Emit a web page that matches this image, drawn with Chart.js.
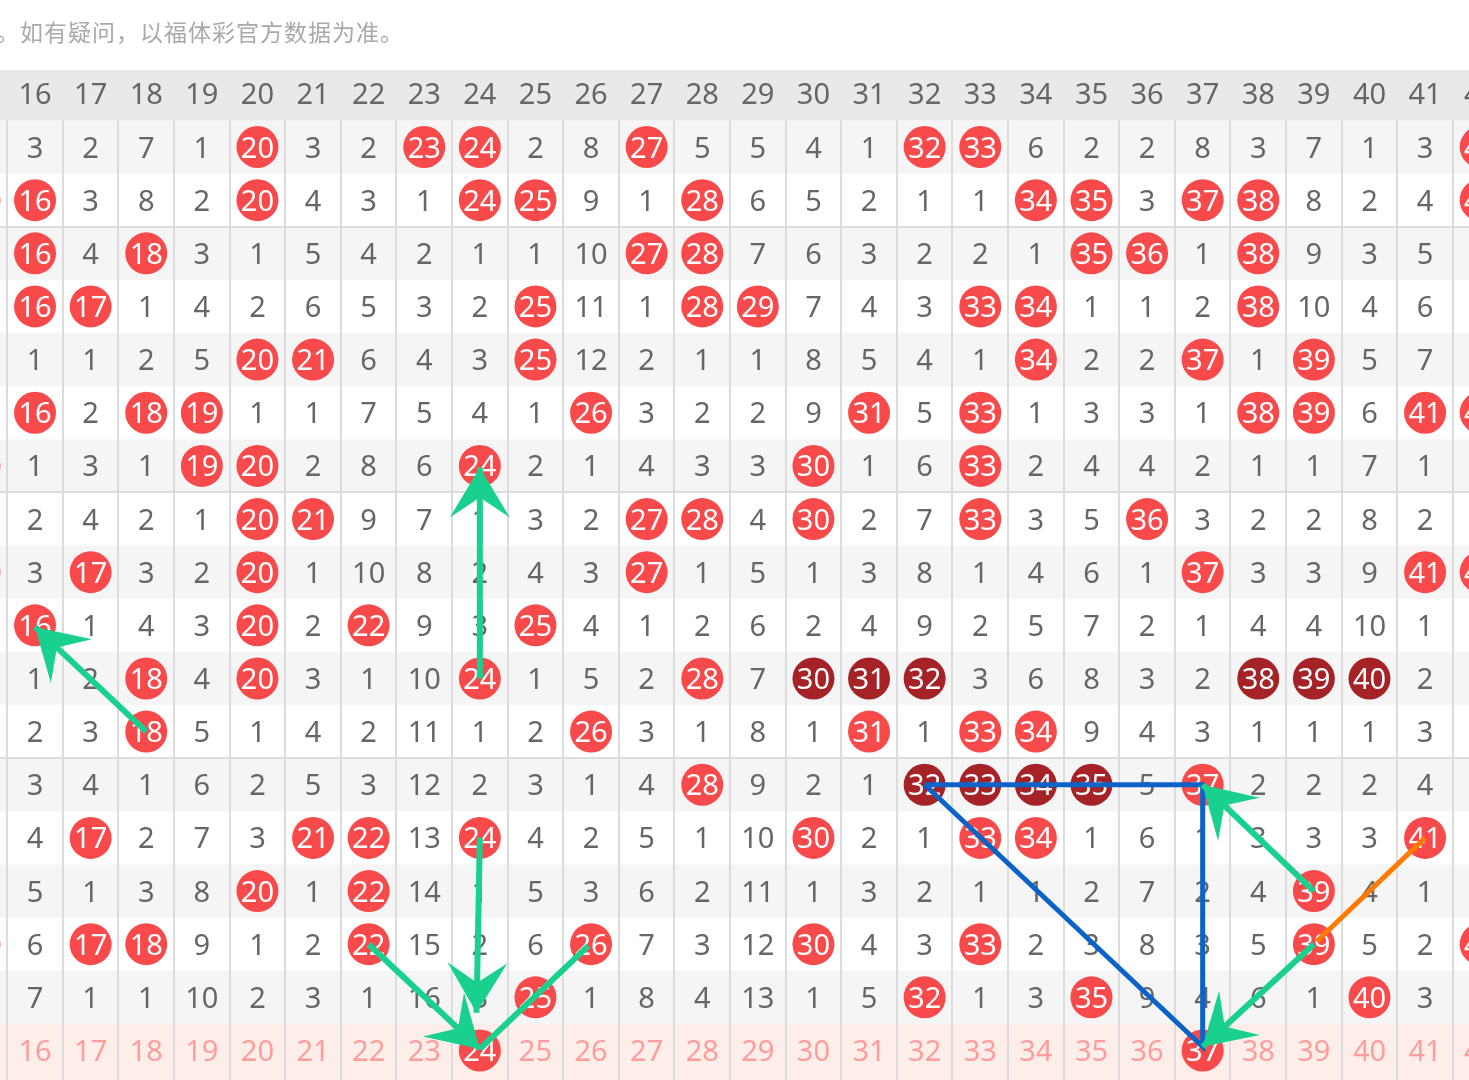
<!DOCTYPE html>
<html>
<head>
<meta charset="utf-8">
<script src="https://cdn.jsdelivr.net/npm/chart.js@4.4.1/dist/chart.umd.min.js"></script>
<style>
  html, body { margin: 0; padding: 0; background: #fff; overflow: hidden; }
  #wrap { position: relative; width: 1469px; height: 1080px; }
  #trend { position: absolute; left: 0; top: 0; }
  #note { position: absolute; left: -4px; top: 15px; font: 23px "Noto Sans CJK SC", sans-serif; letter-spacing: 1px; color: #a9a9a9; white-space: nowrap; line-height: 32px; }
</style>
</head>
<body>
<div id="wrap">
  <canvas id="trend" width="1469" height="1080"></canvas>
  <div id="note">。如有疑问，以福体彩官方数据为准。</div>
</div>
<script>
// columns 16..41 fully visible, 15 and 42 cut at the edges
const columns = [16, 17, 18, 19, 20, 21, 22, 23, 24, 25, 26, 27, 28, 29, 30, 31, 32, 33, 34, 35, 36, 37, 38, 39, 40, 41];
const edgeColumns = [15, 42];

// miss counts per draw, 0 = number drawn (ball)
const missRows = [
  [3, 2, 7, 1, 0, 3, 2, 0, 0, 2, 8, 0, 5, 5, 4, 1, 0, 0, 6, 2, 2, 8, 3, 7, 1, 3],
  [0, 3, 8, 2, 0, 4, 3, 1, 0, 0, 9, 1, 0, 6, 5, 2, 1, 1, 0, 0, 3, 0, 0, 8, 2, 4],
  [0, 4, 0, 3, 1, 5, 4, 2, 1, 1, 10, 0, 0, 7, 6, 3, 2, 2, 1, 0, 0, 1, 0, 9, 3, 5],
  [0, 0, 1, 4, 2, 6, 5, 3, 2, 0, 11, 1, 0, 0, 7, 4, 3, 0, 0, 1, 1, 2, 0, 10, 4, 6],
  [1, 1, 2, 5, 0, 0, 6, 4, 3, 0, 12, 2, 1, 1, 8, 5, 4, 1, 0, 2, 2, 0, 1, 0, 5, 7],
  [0, 2, 0, 0, 1, 1, 7, 5, 4, 1, 0, 3, 2, 2, 9, 0, 5, 0, 1, 3, 3, 1, 0, 0, 6, 0],
  [1, 3, 1, 0, 0, 2, 8, 6, 0, 2, 1, 4, 3, 3, 0, 1, 6, 0, 2, 4, 4, 2, 1, 1, 7, 1],
  [2, 4, 2, 1, 0, 0, 9, 7, 1, 3, 2, 0, 0, 4, 0, 2, 7, 0, 3, 5, 0, 3, 2, 2, 8, 2],
  [3, 0, 3, 2, 0, 1, 10, 8, 2, 4, 3, 0, 1, 5, 1, 3, 8, 1, 4, 6, 1, 0, 3, 3, 9, 0],
  [0, 1, 4, 3, 0, 2, 0, 9, 3, 0, 4, 1, 2, 6, 2, 4, 9, 2, 5, 7, 2, 1, 4, 4, 10, 1],
  [1, 2, 0, 4, 0, 3, 1, 10, 0, 1, 5, 2, 0, 7, 0, 0, 0, 3, 6, 8, 3, 2, 0, 0, 0, 2],
  [2, 3, 0, 5, 1, 4, 2, 11, 1, 2, 0, 3, 1, 8, 1, 0, 1, 0, 0, 9, 4, 3, 1, 1, 1, 3],
  [3, 4, 1, 6, 2, 5, 3, 12, 2, 3, 1, 4, 0, 9, 2, 1, 0, 0, 0, 0, 5, 0, 2, 2, 2, 4],
  [4, 0, 2, 7, 3, 0, 0, 13, 0, 4, 2, 5, 1, 10, 0, 2, 1, 0, 0, 1, 6, 1, 3, 3, 3, 0],
  [5, 1, 3, 8, 0, 1, 0, 14, 1, 5, 3, 6, 2, 11, 1, 3, 2, 1, 1, 2, 7, 2, 4, 0, 4, 1],
  [6, 0, 0, 9, 1, 2, 0, 15, 2, 6, 0, 7, 3, 12, 0, 4, 3, 0, 2, 3, 8, 3, 5, 0, 5, 2],
  [7, 1, 1, 10, 2, 3, 1, 16, 3, 0, 1, 8, 4, 13, 1, 5, 0, 1, 3, 0, 9, 4, 6, 1, 0, 3]
];

// consecutive-number runs shown in dark red: [row, column]
const darkHits = [[11, 30], [11, 31], [11, 32], [11, 38], [11, 39], [11, 40], [13, 32], [13, 33], [13, 34], [13, 35]];
// balls in the half-hidden edge columns: [row, column]
const edgeHits = [[2, 15], [7, 15], [9, 15], [16, 15], [1, 42], [2, 42], [6, 42], [9, 42], [16, 42]];
// picks in the forecast row
const forecastRow = 18;
const forecastHits = [24, 37];

// hand-drawn marks, points as [column, row]
const greenArrows = [
  [[18, 12], [16, 10.03]],
  [[24, 11], [24, 7.03]],
  [[24, 14], [23.94, 17.29]],
  [[22, 16], [24, 17.97]],
  [[39, 15], [37, 13]],
  [[39, 16], [37, 17.93]]
];
const greenLines = [[[25.95, 16.03], [24, 17.97]]];
const orangeLine = [[41, 14], [39.05, 15.95]];
const blueLoop = [[32, 13], [37, 13], [37, 17.93], [32, 13]];

const RED = '#f84a4b';
const DARK = '#a52327';
const GREEN = '#19d08f';

const isDark = (r, c) => darkHits.some(h => h[0] === r && h[1] === c);

const hitPoints = [];
const darkPoints = [];
missRows.forEach((row, i) => {
  row.forEach((v, j) => {
    if (v !== 0) return;
    const p = { x: columns[j], y: i + 1 };
    (isDark(i + 1, columns[j]) ? darkPoints : hitPoints).push(p);
  });
});
edgeHits.forEach(h => hitPoints.push({ x: h[1], y: h[0] }));
forecastHits.forEach(c => hitPoints.push({ x: c, y: forecastRow }));

const toXY = pts => pts.map(p => ({ x: p[0], y: p[1] }));

const datasets = [
  { data: hitPoints, backgroundColor: RED, pointRadius: 21, pointHoverRadius: 21, borderWidth: 0, order: 20, clip: false },
  { data: darkPoints, backgroundColor: DARK, pointRadius: 21, pointHoverRadius: 21, borderWidth: 0, order: 19, cellText: true },
  { data: toXY(blueLoop), showLine: true, borderColor: '#0b63c8', borderWidth: 5, pointRadius: 0, order: 5 }
];
greenLines.forEach(l => datasets.push({ data: toXY(l), showLine: true, borderColor: GREEN, borderWidth: 6, pointRadius: 0, order: 4 }));
greenArrows.forEach(l => datasets.push({ data: toXY(l), showLine: true, borderColor: GREEN, borderWidth: 6, pointRadius: 0, order: 3, arrowHead: true }));
datasets.push({ data: toXY(orangeLine), showLine: true, borderColor: '#ff7a00', borderWidth: 5, pointRadius: 0, order: 2 });

const FONT = '29px "Noto Sans", sans-serif';

function putText(ctx, txt, x, y, color) {
  ctx.fillStyle = color;
  ctx.fillText(txt, x, y + 10.5);
}

const gridPlugin = {
  id: 'gridPlugin',
  beforeDraw(chart) {
    const { ctx, scales: { y } } = chart;
    ctx.save();
    for (let k = 1; k <= missRows.length; k += 2) {
      const top = y.getPixelForValue(k - 0.5);
      ctx.fillStyle = '#f5f5f5';
      ctx.fillRect(0, top, chart.width, y.getPixelForValue(k + 0.5) - top);
    }
    const pTop = y.getPixelForValue(forecastRow - 0.5);
    ctx.fillStyle = '#fdeee9';
    ctx.fillRect(0, pTop, chart.width, chart.height - pTop);
    ctx.restore();
  },
  beforeDatasetsDraw(chart) {
    const { ctx, scales: { x, y } } = chart;
    const hTop = y.getPixelForValue(-0.45);
    const hBot = y.getPixelForValue(0.5);
    ctx.save();
    ctx.fillStyle = '#fff';
    ctx.fillRect(0, 0, chart.width, hTop);
    ctx.fillStyle = '#e9e9e9';
    ctx.fillRect(0, hTop, chart.width, hBot - hTop);
    ctx.font = FONT;
    ctx.textAlign = 'center';
    const all = [edgeColumns[0], ...columns, edgeColumns[1]];
    all.forEach(c => putText(ctx, String(c), x.getPixelForValue(c), y.getPixelForValue(0), '#666'));
    ctx.restore();
  },
  afterDatasetDraw(chart, args) {
    const ds = chart.data.datasets[args.index];
    const { ctx, scales: { x, y } } = chart;
    if (ds.cellText) {
      ctx.save();
      ctx.font = FONT;
      ctx.textAlign = 'center';
      missRows.forEach((row, i) => {
        row.forEach((v, j) => {
          const px = x.getPixelForValue(columns[j]);
          const py = y.getPixelForValue(i + 1);
          if (v === 0) putText(ctx, String(columns[j]), px, py, '#fff');
          else putText(ctx, String(v), px, py, '#666');
        });
      });
      edgeHits.forEach(h => putText(ctx, String(h[1]), x.getPixelForValue(h[1]), y.getPixelForValue(h[0]), '#fff'));
      const py = y.getPixelForValue(forecastRow);
      [edgeColumns[0], ...columns, edgeColumns[1]].forEach(c => {
        const hit = forecastHits.includes(c);
        putText(ctx, String(c), x.getPixelForValue(c), py, hit ? '#fff' : '#ff9d9d');
      });
      ctx.restore();
    }
    if (ds.arrowHead) {
      const pts = args.meta.data;
      const a = pts[pts.length - 2];
      const b = pts[pts.length - 1];
      const ang = Math.atan2(b.y - a.y, b.x - a.x);
      const cs = Math.cos(ang), sn = Math.sin(ang);
      const at = (back, side) => [b.x - back * cs - side * sn, b.y - back * sn + side * cs];
      ctx.save();
      ctx.fillStyle = ds.borderColor;
      ctx.beginPath();
      ctx.moveTo(b.x, b.y);
      let p = at(50, 30); ctx.lineTo(p[0], p[1]);
      p = at(30, 0); ctx.lineTo(p[0], p[1]);
      p = at(50, -30); ctx.lineTo(p[0], p[1]);
      ctx.closePath();
      ctx.fill();
      ctx.restore();
    }
  }
};

const axisBase = {
  type: 'linear',
  ticks: { display: false },
  border: { display: false },
  grid: { color: '#dcdcdc', lineWidth: 2, drawTicks: false }
};

new Chart(document.getElementById('trend'), {
  type: 'scatter',
  data: { datasets: datasets },
  options: {
    responsive: false,
    animation: false,
    events: [],
    layout: { padding: 0, autoPadding: false },
    plugins: { legend: { display: false }, tooltip: { enabled: false } },
    scales: {
      x: Object.assign({}, axisBase, {
        min: 15.37, max: 41.79,
        afterBuildTicks: axis => {
          const t = [];
          for (let v = 15.5; v < 42; v += 1) t.push({ value: v });
          axis.ticks = t;
        }
      }),
      y: Object.assign({}, axisBase, {
        reverse: true,
        min: -1.766, max: 18.555,
        afterBuildTicks: axis => {
          axis.ticks = [2.5, 7.5, 12.5].map(v => ({ value: v }));
        }
      })
    }
  },
  plugins: [gridPlugin]
});
</script>
</body>
</html>
